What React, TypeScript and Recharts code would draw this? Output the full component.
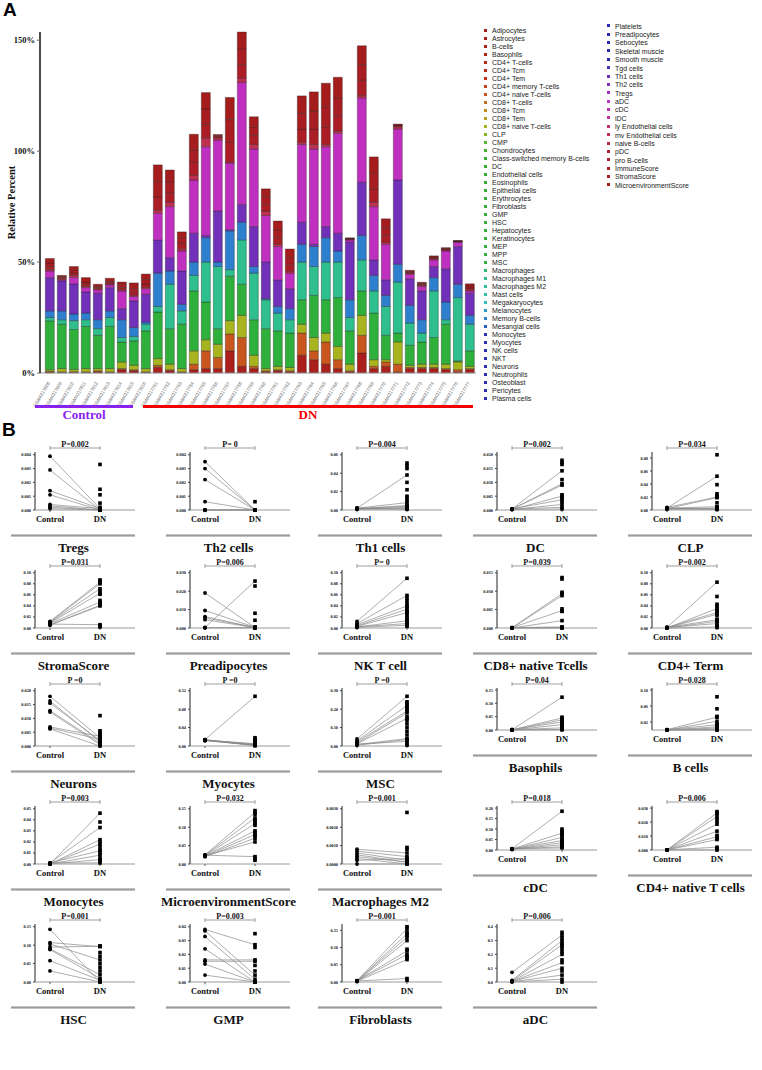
import React from "react";
import { BarChart, Bar, XAxis, YAxis, ComposedChart, Line, Scatter, ReferenceLine } from "recharts";

const SERIF = '"Liberation Serif", "Times New Roman", serif';
const SANS = '"Liberation Sans", Arial, sans-serif';

// xCell cell types, in legend / stacking order
const CELL_TYPES = [
  "Adipocytes", "Astrocytes", "B-cells", "Basophils", "CD4+ T-cells", "CD4+ Tcm", "CD4+ Tem",
  "CD4+ memory T-cells", "CD4+ naive T-cells", "CD8+ T-cells", "CD8+ Tcm", "CD8+ Tem",
  "CD8+ naive T-cells", "CLP", "CMP", "Chondrocytes", "Class-switched memory B-cells", "DC",
  "Endothelial cells", "Eosinophils", "Epithelial cells", "Erythrocytes", "Fibroblasts", "GMP",
  "HSC", "Hepatocytes", "Keratinocytes", "MEP", "MPP", "MSC", "Macrophages", "Macrophages M1",
  "Macrophages M2", "Mast cells", "Megakaryocytes", "Melanocytes", "Memory B-cells",
  "Mesangial cells", "Monocytes", "Myocytes", "NK cells", "NKT", "Neurons", "Neutrophils",
  "Osteoblast", "Pericytes", "Plasma cells", "Platelets", "Preadipocytes", "Sebocytes",
  "Skeletal muscle", "Smooth muscle", "Tgd cells", "Th1 cells", "Th2 cells", "Tregs", "aDC",
  "cDC", "iDC", "ly Endothelial cells", "mv Endothelial cells", "naive B-cells", "pDC",
  "pro B-cells", "ImmuneScore", "StromaScore", "MicroenvironmentScore",
];

const SAMPLES = [
  "GSM4217808", "GSM4217809", "GSM4217810", "GSM4217811", "GSM4217812", "GSM4217813",
  "GSM4217814", "GSM4217815", "GSM4217816", "GSM4217751", "GSM4217752", "GSM4217753",
  "GSM4217754", "GSM4217755", "GSM4217756", "GSM4217757", "GSM4217758", "GSM4217759",
  "GSM4217760", "GSM4217761", "GSM4217762", "GSM4217763", "GSM4217764", "GSM4217765",
  "GSM4217766", "GSM4217767", "GSM4217768", "GSM4217769", "GSM4217770", "GSM4217771",
  "GSM4217772", "GSM4217773", "GSM4217774", "GSM4217775", "GSM4217776", "GSM4217777",
];

// relative percent per sample
const astrocytes = [0.4, 0.3, 0.3, 0.3, 0.5, 0.2, 1.5, 1, 0.3, 2.5, 1, 0.3, 1.5, 2, 2, 10, 3, 2, 0.5, 1, 0.5, 8, 6, 4, 2, 0.5, 9, 2, 3, 0.5, 2, 2, 2, 1.5, 0.5, 1.5];
const cd4Naive = [0.3, 0.2, 0.3, 0.2, 0.5, 0.3, 0.5, 0.5, 0.2, 1, 0.5, 0.2, 2.5, 8, 5, 7.6, 13, 1, 0.5, 0.5, 0.5, 10, 4, 10, 4, 0.5, 8, 1, 2, 3.5, 0.5, 0.5, 0.5, 0.5, 1, 0.5];
const cd8Naive = [0.8, 1.5, 1, 1.5, 1, 1.5, 3, 2, 1.5, 3, 2.5, 1.5, 6, 5, 6, 6, 10, 5, 1, 1.5, 1.5, 4, 6, 4, 6, 3, 9, 3, 1, 10, 1, 1.5, 1.5, 2, 3.5, 1];
const fibroblasts = [22, 20, 18, 19, 15, 19, 9, 11, 17, 21, 16, 20, 27, 17, 7, 20, 14, 16, 18, 16, 15.5, 11, 19, 15, 22, 15, 11, 21, 11, 4, 9, 10, 12, 18, 0.5, 7];
const macM1 = [1.5, 2, 4, 3, 3, 4, 2, 2, 3, 2.5, 20, 6, 7, 18, 28, 3, 20, 21, 13, 8, 6, 17, 13, 17, 16, 6, 14, 10, 13, 23, 10, 4, 21, 2, 28.5, 12];
const memoryB = [3, 4, 3, 3, 4, 3, 8, 4, 1, 15, 6, 3, 6, 11, 2, 17.5, 8, 3, 0.5, 3, 5, 8, 9, 11, 5, 8, 11, 7, 5, 8, 8, 6, 6, 8, 6, 4];
const th1 = [15, 13.5, 13.5, 9.5, 12, 10.5, 5, 12, 12.5, 15, 6, 15, 13, 1, 23, 0.5, 8, 18, 16.5, 12, 9, 10, 1, 5, 8, 26, 24, 7, 7, 38, 12, 13, 5, 15, 17, 10];
const aDC = [3, 0.5, 3, 2, 1.5, 1.2, 8, 2, 2.5, 12, 23, 9, 24, 40, 32, 30, 55, 35, 21, 15, 7, 35, 43, 36, 45, 1, 38, 24, 16, 23, 2, 2, 3, 8, 2, 1];
const mvEndo = [0.6, 0.5, 0.9, 0.5, 0.5, 0.5, 0.5, 0.6, 0.6, 1.3, 2, 1, 2, 4, 1, 0.6, 2, 2, 2, 1, 1, 1, 2, 1, 1, 0.3, 1, 2, 1, 1, 0.5, 0.5, 0.5, 0.5, 0.2, 0.5];
const immuneScore = [1.5, 0.5, 1, 1, 0.5, 0.5, 1, 1.5, 1.5, 6, 4, 2.5, 6, 6, 0.5, 9, 6, 4, 3, 3, 3, 6, 7, 8, 7, 0.2, 7, 6, 3, 0.4, 0.4, 0.4, 0.4, 0.3, 0.2, 0.8];
const stromaScore = [1.5, 0.5, 1.5, 1, 0.5, 0.5, 1.5, 1.5, 2, 7, 5, 2.5, 5.6, 7, 0.5, 10, 7, 4, 3.5, 3.5, 3, 7, 8, 9, 8, 0.2, 7, 7, 3.5, 0.4, 0.4, 0.5, 0.4, 0.3, 0.1, 0.9];
const microScore = [2, 0.5, 1.5, 2, 1, 1.5, 1, 2.5, 2.5, 7.5, 5.5, 2.6, 7, 7.4, 0.5, 10, 7.7, 4.5, 3.5, 4, 3.9, 7.9, 8.7, 10.6, 9.3, 0.2, 8.5, 7.4, 4, 0.4, 0.5, 0.5, 0.5, 0.4, 0.2, 1];

const STACK: [string, number[]][] = [
  ["Astrocytes", astrocytes], ["CD4+ naive T-cells", cd4Naive], ["CD8+ naive T-cells", cd8Naive],
  ["Fibroblasts", fibroblasts], ["Macrophages M1", macM1], ["Memory B-cells", memoryB],
  ["Th1 cells", th1], ["aDC", aDC], ["mv Endothelial cells", mvEndo],
  ["ImmuneScore", immuneScore], ["StromaScore", stromaScore], ["MicroenvironmentScore", microScore],
];

// panel B: paired plots
const PLOT_TITLES = [
  "Tregs", "Th2 cells", "Th1 cells", "DC", "CLP",
  "StromaScore", "Preadipocytes", "NK T cell", "CD8+ native Tcells", "CD4+ Term",
  "Neurons", "Myocytes", "MSC", "Basophils", "B cells",
  "Monocytes", "MicroenvironmentScore", "Macrophages M2", "cDC", "CD4+ native T cells",
  "HSC", "GMP", "Fibroblasts", "aDC",
];
const P_LABELS = [
  "P=0.002", "P= 0", "P=0.004", "P=0.002", "P=0.034",
  "P=0.031", "P=0.006", "P= 0", "P=0.039", "P=0.002",
  "P =0", "P =0", "P =0", "P=0.04", "P=0.028",
  "P=0.003", "P=0.032", "P=0.001", "P=0.018", "P=0.006",
  "P=0.001", "P=0.003", "P=0.001", "P=0.006",
];
const Y_TICKS = [
  [0, 0.001, 0.002, 0.003, 0.004], [0, 0.001, 0.002, 0.003, 0.004], [0, 0.01, 0.02, 0.03, 0.04, 0.05, 0.06],
  [0, 0.005, 0.01, 0.015, 0.02], [0, 0.02, 0.04, 0.06, 0.08],
  [0, 0.02, 0.04, 0.06, 0.08, 0.1], [0, 0.005, 0.01, 0.015, 0.02, 0.025, 0.03], [0, 0.02, 0.04, 0.06, 0.08, 0.1],
  [0, 0.005, 0.01, 0.015], [0, 0.02, 0.04, 0.06, 0.08, 0.1],
  [0, 0.005, 0.01, 0.015, 0.02], [0, 0.02, 0.04, 0.06, 0.08, 0.1, 0.12], [0, 0.05, 0.1, 0.15, 0.2, 0.25, 0.3],
  [0, 0.05, 0.1, 0.15], [0, 0.02, 0.04, 0.06, 0.08, 0.1],
  [0, 0.01, 0.02, 0.03, 0.04, 0.05], [0, 0.05, 0.1, 0.15], [0, 0.0005, 0.001, 0.0015, 0.002, 0.0025, 0.003],
  [0, 0.05, 0.1, 0.15, 0.2], [0, 0.005, 0.01, 0.015, 0.02, 0.025, 0.03],
  [0, 0.05, 0.1, 0.15], [0, 0.01, 0.02, 0.03, 0.04], [0, 0.05, 0.1, 0.15], [0, 0.1, 0.2, 0.3, 0.4],
];
const TICK_DECIMALS = [3, 3, 2, 3, 2, 2, 3, 2, 3, 2, 3, 2, 2, 2, 2, 2, 2, 4, 2, 3, 2, 2, 2, 1];
const CTRL = [
  [0.0039, 0.0029, 0.0014, 0.0011, 0.0004, 0.0003, 0.0002, 0.0001],
  [0.0035, 0.003, 0.0022, 0.0006, 0, 0, 0, 0],
  [0.002, 0.002, 0.001, 0.002, 0.001, 0.001, 0.002, 0.001],
  [0.0004, 0.0003, 0.0003, 0.0002, 0.0004, 0.0002, 0.0003, 0.0002],
  [0.003, 0.004, 0.002, 0.003, 0.002, 0.001, 0.002, 0.003],
  [0.012, 0.011, 0.01, 0.009, 0.008, 0.006, 0.005, 0.007],
  [0.019, 0.0095, 0.0062, 0.0055, 0.0045, 0.0003, 0.0002, 0.0001],
  [0.012, 0.008, 0.006, 0.004, 0.003, 0.002, 0.002, 0.001],
  [0.0001, 0, 0.0001, 0, 0.0001, 0, 0, 0.0001],
  [0.001, 0, 0.001, 0, 0.001, 0, 0.001, 0],
  [0.018, 0.0163, 0.0155, 0.0128, 0.0123, 0.0069, 0.0065, 0.0062],
  [0.014, 0.013, 0.013, 0.012, 0.013, 0.012, 0.014, 0.012],
  [0.038, 0.028, 0.022, 0.015, 0.012, 0.008, 0.004, 0.01],
  [0.001, 0.001, 0, 0.001, 0, 0.001, 0, 0.001],
  [0.001, 0, 0.001, 0, 0, 0.001, 0, 0],
  [0, 0.001, 0, 0, 0.001, 0, 0, 0.001],
  [0.025, 0.024, 0.023, 0.022, 0.021, 0.02, 0.022, 0.024],
  [0.0008, 0.0007, 0.0006, 0.0005, 0.0004, 0.0003, 0.0002, 0],
  [0.006, 0.005, 0.004, 0.005, 0.003, 0.004, 0.006, 0.005],
  [0.0001, 0, 0.0001, 0, 0.0001, 0, 0.0001, 0],
  [0.143, 0.107, 0.103, 0.095, 0.09, 0.088, 0.058, 0.03],
  [0.038, 0.037, 0.033, 0.024, 0.016, 0.015, 0.013, 0.005],
  [0.004, 0.003, 0.003, 0.002, 0.004, 0.003, 0.002, 0.003],
  [0.07, 0.012, 0.008, 0.005, 0.004, 0.003, 0.002, 0.001],
];
// DN values joined by a line to the matching control value
const DN_PAIRED = [
  [0.0001, 0, 0.0001, 0, 0.0001, 0, 0, 0],
  [0, 0, 0, 0, 0, 0, 0, 0],
  [0.038, 0.008, 0.005, 0.004, 0.003, 0.002, 0.001, 0.001],
  [0.0142, 0.0095, 0.009, 0.005, 0.0037, 0.002, 0.001, 0.0004],
  [0.052, 0.02, 0.019, 0.005, 0.003, 0.002, 0.001, 0.001],
  [0.083, 0.08, 0.071, 0.063, 0.047, 0.041, 0.04, 0.006],
  [0.0003, 0.0004, 0.0002, 0.0003, 0.0002, 0.0255, 0.0002, 0.0001],
  [0.09, 0.059, 0.04, 0.034, 0.028, 0.013, 0.008, 0.005],
  [0.0093, 0.0088, 0.0047, 0.002, 0.0003, 0.0001, 0, 0.0001],
  [0.083, 0.035, 0.028, 0.025, 0.015, 0.012, 0.008, 0.002],
  [0.003, 0.0015, 0.002, 0.001, 0.0005, 0.0035, 0.0025, 0],
  [0.108, 0.005, 0.004, 0.003, 0.002, 0.002, 0.001, 0.001],
  [0.27, 0.22, 0.19, 0.18, 0.15, 0.04, 0.035, 0.025],
  [0.123, 0.045, 0.038, 0.03, 0.02, 0.008, 0.002, 0.001],
  [0.032, 0.022, 0.013, 0.008, 0.005, 0.002, 0.001, 0],
  [0.046, 0.033, 0.022, 0.018, 0.012, 0.008, 0.004, 0.001],
  [0.14, 0.125, 0.11, 0.09, 0.08, 0.07, 0.06, 0.02],
  [0.0006, 0.0004, 0.0002, 0.0001, 0.0001, 0, 0.0003, 0],
  [0.185, 0.08, 0.06, 0.045, 0.035, 0.025, 0.015, 0.01],
  [0.0265, 0.024, 0.0185, 0.0135, 0.0095, 0.0075, 0.002, 0],
  [0, 0.096, 0.06, 0.097, 0.02, 0.01, 0.005, 0],
  [0.027, 0.005, 0.002, 0, 0.016, 0.015, 0, 0],
  [0.155, 0.14, 0.13, 0.12, 0.09, 0.08, 0.065, 0.01],
  [0.34, 0.3, 0.27, 0.2, 0.14, 0.1, 0.05, 0.02],
];
// remaining DN samples (points only)
const DN_EXTRA = [
  [0.0033, 0.0015, 0.0011, 0.0005, 0.0002],
  [0.0006],
  [0.051, 0.048, 0.045, 0.03, 0.022, 0.015, 0.013, 0.01],
  [0.018, 0.0172, 0.0165, 0.011, 0.0055, 0.0044, 0.003],
  [0.085, 0.039, 0.025, 0.022, 0.011, 0.004],
  [0.087, 0.085, 0.067, 0.061, 0.05, 0.045, 0.004, 0.002],
  [0.0228, 0.008, 0.0042],
  [0.054, 0.049, 0.044, 0.038, 0.03, 0.026, 0.022, 0.018, 0.015, 0.009, 0.003],
  [0.0137, 0.0133, 0.0097, 0.0052, 0.0045],
  [0.057, 0.043, 0.04, 0.032, 0.03, 0.023, 0.016, 0.013, 0.004, 0.001],
  [0.011, 0.0055, 0.005, 0.0045, 0.004],
  [0.018, 0.015, 0.012, 0.01, 0.007],
  [0.24, 0.23, 0.21, 0.2, 0.16, 0.14, 0.12, 0.1, 0.08, 0.06, 0.01, 0.005],
  [0.048, 0.04, 0.033, 0.025, 0.018, 0.01, 0.005],
  [0.083, 0.053, 0.034, 0.015, 0.012, 0.009],
  [0.038, 0.02, 0.016, 0.013, 0.01, 0.005, 0.003],
  [0.145, 0.135, 0.12, 0.115, 0.105, 0.085, 0.075, 0.015, 0.01],
  [0.0028, 0.0009, 0.0008],
  [0.1, 0.09, 0.085, 0.075, 0.07, 0.05, 0.04, 0.03, 0.02],
  [0.0275, 0.026, 0.0225, 0.0205, 0.0105, 0.008, 0.001],
  [0.098, 0.08, 0.07, 0.05, 0.04, 0.03],
  [0.035, 0.025, 0.012, 0.008],
  [0.16, 0.145, 0.135, 0.095, 0.075, 0.07, 0.005],
  [0.36, 0.32, 0.28, 0.26, 0.24, 0.22, 0.16, 0.08, 0],
];

// colour ramp used for the cell types
const RAMP: [number, string][] = [
  [0, "#a51c1c"], [6, "#c42a1e"], [8, "#c8561e"], [10, "#c08c1e"], [12, "#a8b41e"], [14, "#5cb42a"],
  [16, "#2fb02f"], [29, "#2fb04a"], [31, "#2fbf8c"], [34, "#2fbfbf"], [36, "#2f7fcf"], [38, "#2535b5"],
  [51, "#2828b0"], [52, "#4a2cb8"], [53, "#7030b8"], [55, "#a030c0"], [56, "#c030c0"], [58, "#c0309a"],
  [60, "#c03050"], [62, "#b02030"], [66, "#a51c1c"],
];
const rgb = (h: string) => [1, 3, 5].map((i) => parseInt(h.slice(i, i + 2), 16));
const PALETTE = CELL_TYPES.map((_, i) => {
  let k = 0;
  while (k < RAMP.length - 2 && RAMP[k + 1][0] < i) k++;
  const [i0, c0] = RAMP[k];
  const [i1, c1] = RAMP[k + 1];
  const t = i1 === i0 ? 0 : Math.min(1, Math.max(0, (i - i0) / (i1 - i0)));
  const a = rgb(c0), b = rgb(c1);
  return "rgb(" + a.map((v, j) => Math.round(v + (b[j] - v) * t)).join(",") + ")";
});
const colorOf = (name: string) => PALETTE[CELL_TYPES.indexOf(name)];

const barRows = SAMPLES.map((s, i) => {
  const row: any = { sample: s };
  STACK.forEach(([k, v]) => (row[k] = v[i]));
  return row;
});

function SampleTick(props: any) {
  const { x, y, payload } = props;
  return (
    <text x={x} y={y + 2} transform={`rotate(-60 ${x} ${y + 2})`} textAnchor="end" fontSize={4.6} fill="#666" fontFamily={SANS}>
      {payload.value}
    </text>
  );
}

function StackedPanel() {
  return (
    <BarChart width={480} height={410} data={barRows} margin={{ top: 32, right: 4, bottom: 0, left: 0 }} barCategoryGap="11%">
      <XAxis dataKey="sample" interval={0} tick={<SampleTick />} height={37} padding={{ left: 4, right: 0 }} axisLine={{ stroke: "#999" }} tickLine={false} />
      <YAxis
        domain={[0, 150]}
        ticks={[0, 50, 100, 150]}
        tickFormatter={(v) => v + "%"}
        width={40}
        axisLine={{ stroke: "#111", strokeWidth: 1.5 }}
        tickSize={3}
        tick={{ fontSize: 8.5, fontWeight: "bold", fill: "#111", fontFamily: SERIF }}
        label={{ value: "Relative Percent", angle: -90, position: "insideLeft", offset: 11, style: { fontSize: 10.5, fontWeight: "bold", fontFamily: SERIF, fill: "#111", textAnchor: "middle" } }}
      />
      {STACK.map(([k]) => (
        <Bar key={k} dataKey={k} stackId="a" fill={colorOf(k)} stroke="rgba(25,25,25,0.75)" strokeWidth={0.45} isAnimationActive={false} />
      ))}
    </BarChart>
  );
}

function LegendBlock() {
  const col1 = CELL_TYPES.slice(0, 47);
  const col2 = CELL_TYPES.slice(47);
  const item = (name: string, x: number, y: number) => (
    <div key={name} style={{ position: "absolute", left: x, top: y - 4, height: 8, lineHeight: "8px", fontSize: 7, fontFamily: SANS, color: "#222", whiteSpace: "nowrap" }}>
      <span style={{ display: "inline-block", width: 3, height: 3, background: colorOf(name), marginRight: 5, verticalAlign: "middle", position: "relative", top: -1 }} />
      {name}
    </div>
  );
  return (
    <>
      {col1.map((n, i) => item(n, 484, 31 + i * 8.0))}
      {col2.map((n, i) => item(n, 607, 26.7 + i * 8.37))}
    </>
  );
}

const ROW_TOPS = [438, 556, 674, 792, 910];
const COL_LEFTS = [5, 160, 312, 467, 622];
const SHORT_PLOTS: Record<number, number> = { 13: 42, 14: 42, 18: 44, 19: 44 };
const TOP_PAD = 22;

function PairPlot({ idx, left, top }: { idx: number; left: number; top: number }) {
  const ticks = Y_TICKS[idx];
  const ctrl = CTRL[idx];
  const paired = DN_PAIRED[idx];
  const extra = DN_EXTRA[idx];
  const allMax = Math.max(ticks[ticks.length - 1], ...ctrl, ...paired, ...extra);
  const dmax = allMax * 1.05;
  const ph = SHORT_PLOTS[idx] ?? 58;
  const h = TOP_PAD + ph + 20;
  const yb = dmax * (1 + 4 / ph);
  const dy = dmax * (2 / ph);
  const rows = [0, 1].map((x) => {
    const r: any = { x };
    ctrl.forEach((c, i) => (r["s" + i] = x === 0 ? c : paired[i]));
    return r;
  });
  const ctrlPts = ctrl.map((y) => ({ x: 0, y }));
  const dnPts = paired.concat(extra).map((y) => ({ x: 1, y }));
  return (
    <div style={{ position: "absolute", left, top: top - (TOP_PAD - 14), width: 137, height: h + 30 }}>
      <ComposedChart width={137} height={h} data={rows} margin={{ top: TOP_PAD, right: 7, bottom: 0, left: 0 }}>
        <XAxis
          type="number"
          dataKey="x"
          domain={[-0.3, 1.7]}
          ticks={[0, 1]}
          tickFormatter={(v) => (v === 0 ? "Control" : "DN")}
          height={20}
          axisLine={{ stroke: "#9a9a9a" }}
          tickLine={{ stroke: "#555" }}
          tickSize={2}
          tickMargin={4}
          tick={{ fontSize: 8.5, fontWeight: "bold", fill: "#111", fontFamily: SERIF }}
        />
        <YAxis
          type="number"
          domain={[0, dmax]}
          ticks={ticks}
          tickFormatter={(v) => v.toFixed(TICK_DECIMALS[idx])}
          width={30}
          axisLine={{ stroke: "#222" }}
          tickLine={{ stroke: "#444" }}
          tickSize={2}
          tick={{ fontSize: 4.3, fontWeight: "bold", fill: "#111", fontFamily: SERIF }}
        />
        {ctrl.map((_, i) => (
          <Line key={i} dataKey={"s" + i} stroke="#8a8a8a" strokeWidth={0.7} dot={false} isAnimationActive={false} />
        ))}
        <Scatter data={ctrlPts} dataKey="y" isAnimationActive={false} shape={(p: any) => <circle cx={p.cx} cy={p.cy} r={1.9} fill="#000" />} />
        <Scatter data={dnPts} dataKey="y" isAnimationActive={false} shape={(p: any) => <rect x={p.cx - 1.8} y={p.cy - 1.8} width={3.6} height={3.6} fill="#000" />} />
        <ReferenceLine
          segment={[{ x: 0, y: yb }, { x: 1, y: yb }]}
          stroke="#777"
          strokeWidth={0.7}
          ifOverflow="visible"
          label={{ value: P_LABELS[idx], position: "top", offset: 1, fill: "#111", fontSize: 8, fontWeight: "bold", fontFamily: SERIF }}
        />
        <ReferenceLine segment={[{ x: 0, y: yb - dy }, { x: 0, y: yb + dy }]} stroke="#777" strokeWidth={0.7} ifOverflow="visible" />
        <ReferenceLine segment={[{ x: 1, y: yb - dy }, { x: 1, y: yb + dy }]} stroke="#777" strokeWidth={0.7} ifOverflow="visible" />
      </ComposedChart>
      <div style={{ position: "absolute", left: 6, top: h + 4, width: 124, height: 3, background: "linear-gradient(#d6d6d6, #9c9c9c, #d6d6d6)" }} />
      <div style={{ position: "absolute", left: 0, top: h + 11, width: 137, textAlign: "center", fontSize: 13, lineHeight: "14px", fontWeight: "bold", fontFamily: SERIF, color: "#111", whiteSpace: "nowrap" }}>
        {PLOT_TITLES[idx]}
      </div>
    </div>
  );
}

export default function App() {
  return (
    <div style={{ position: "absolute", left: 0, top: 0, width: 762, height: 1070, background: "#fff", overflow: "hidden" }}>
      <div style={{ position: "absolute", left: 0, top: 0 }}>
        <StackedPanel />
      </div>
      <div style={{ position: "absolute", left: 3, top: 0, fontSize: 19, lineHeight: "20px", fontWeight: "bold", fontFamily: SANS }}>A</div>
      <LegendBlock />
      <div style={{ position: "absolute", left: 35, top: 405, width: 98, height: 2.5, background: "#8a22ee" }} />
      <div style={{ position: "absolute", left: 35, top: 408, width: 98, textAlign: "center", fontSize: 13, lineHeight: "14px", fontWeight: "bold", fontFamily: SERIF, color: "#8a22ee" }}>Control</div>
      <div style={{ position: "absolute", left: 143, top: 405, width: 330, height: 2.5, background: "#f20000" }} />
      <div style={{ position: "absolute", left: 143, top: 408, width: 330, textAlign: "center", fontSize: 13, lineHeight: "14px", fontWeight: "bold", fontFamily: SERIF, color: "#f20000" }}>DN</div>
      <div style={{ position: "absolute", left: 2, top: 420, fontSize: 19, lineHeight: "20px", fontWeight: "bold", fontFamily: SANS }}>B</div>
      {PLOT_TITLES.map((_, i) => (
        <PairPlot key={i} idx={i} left={COL_LEFTS[i % 5]} top={ROW_TOPS[Math.floor(i / 5)]} />
      ))}
    </div>
  );
}
